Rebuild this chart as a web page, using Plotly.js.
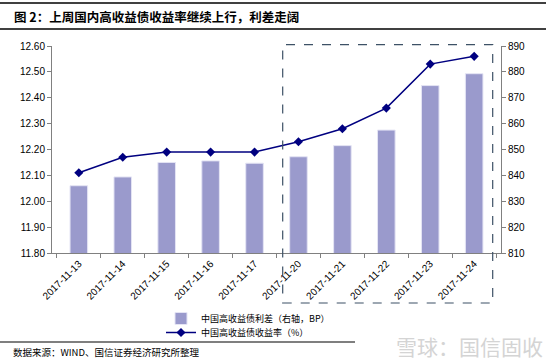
<!DOCTYPE html>
<html>
<head>
<meta charset="utf-8">
<script src="https://cdn.plot.ly/plotly-3.0.1.min.js"></script>
<style>
html,body{margin:0;padding:0;background:#fff;}
#chart{width:546px;height:361px;}
</style>
</head>
<body>
<div id="chart"></div>
<script>
const dates = ["2017-11-13","2017-11-14","2017-11-15","2017-11-16","2017-11-17","2017-11-20","2017-11-21","2017-11-22","2017-11-23","2017-11-24"];
const spreadBP = [836.0, 839.4, 845.0, 845.6, 844.7, 847.2, 851.5, 857.5, 874.7, 879.3];
const yieldPct = [12.11, 12.17, 12.19, 12.19, 12.19, 12.23, 12.28, 12.36, 12.53, 12.56];
const seriesNames = ["中国高收益债利差（右轴，BP）", "中国高收益债收益率（%）"];
const titleText = "图 2：上周国内高收益债收益率继续上行，利差走阔";
const sourceText = "数据来源：WIND、国信证券经济研究所整理";
const watermark = "雪球：国信固收";

const numFont = "Liberation Sans, Arial, sans-serif";
const cjkFont = "Noto Sans CJK SC, sans-serif";

const traces = [
  {
    type: "bar", x: dates, y: spreadBP, yaxis: "y2", name: seriesNames[0], legend: "legend",
    marker: {color: "#9a9acc", line: {color: "#e4e4f4", width: 1}}
  },
  {
    type: "scatter", mode: "lines+markers", x: dates, y: yieldPct, yaxis: "y", name: seriesNames[1], legend: "legend2",
    line: {color: "#000080", width: 1.5},
    marker: {symbol: "diamond", size: 7, color: "#000080"}
  }
];

const py = v => (253 - v) / 207;
const px = v => (v - 52) / 449;

const legendBase = {
  xanchor: "left", yanchor: "middle",
  font: {family: cjkFont, size: 9, color: "#000"},
  itemwidth: 30, bgcolor: "rgba(0,0,0,0)", borderwidth: 0
};

const layout = {
  width: 546, height: 361,
  margin: {l: 52, r: 45, t: 46, b: 108},
  paper_bgcolor: "#fff", plot_bgcolor: "#fff",
  bargap: 0.6,
  showlegend: true,
  legend: Object.assign({}, legendBase, {x: px(161), y: py(318.5)}),
  legend2: Object.assign({}, legendBase, {x: px(161), y: py(332.5)}),
  xaxis: {
    type: "category", tickson: "boundaries", ticks: "outside", ticklen: 4,
    tickcolor: "#808080", showline: true, linecolor: "#808080", linewidth: 1,
    showgrid: false, tickangle: -45,
    tickfont: {family: numFont, size: 10, color: "#000"}
  },
  yaxis: {
    range: [11.8, 12.6], dtick: 0.1, tickformat: ".2f",
    ticks: "outside", ticklen: 4, tickcolor: "#808080",
    showline: true, linecolor: "#808080", linewidth: 1,
    showgrid: false, zeroline: false,
    tickfont: {family: numFont, size: 10, color: "#000"}
  },
  yaxis2: {
    range: [810, 890], dtick: 10, overlaying: "y", side: "right",
    ticks: "outside", ticklen: 4, tickcolor: "#808080",
    showline: true, linecolor: "#808080", linewidth: 1,
    showgrid: false, zeroline: false,
    tickfont: {family: numFont, size: 10, color: "#000"}
  },
  shapes: [
    {type: "rect", xref: "paper", yref: "paper", x0: px(282.7), x1: px(492.7), y0: py(303), y1: py(44.7),
     line: {color: "#3d5166", width: 1.2, dash: "dash"}},
    {type: "line", xref: "paper", yref: "paper", x0: px(0), x1: px(546), y0: py(3), y1: py(3),
     line: {color: "#000", width: 1.5}},
    {type: "line", xref: "paper", yref: "paper", x0: px(0), x1: px(546), y0: py(29), y1: py(29),
     line: {color: "#000", width: 1.5}},
    {type: "line", xref: "paper", yref: "paper", x0: px(0), x1: px(355), y0: py(342), y1: py(342),
     line: {color: "#000", width: 1.2}}
  ],
  annotations: [
    {text: "<b>" + titleText + "</b>", xref: "paper", yref: "paper", x: px(12), y: py(16),
     xanchor: "left", yanchor: "middle", showarrow: false,
     font: {family: cjkFont, size: 12.5, color: "#000"}},
    {text: sourceText, xref: "paper", yref: "paper", x: px(11), y: py(352),
     xanchor: "left", yanchor: "middle", showarrow: false,
     font: {family: cjkFont, size: 9.5, color: "#000"}},
    {text: watermark, xref: "paper", yref: "paper", x: px(545), y: py(346),
     xanchor: "right", yanchor: "middle", showarrow: false,
     font: {family: cjkFont, size: 21, color: "#d4d4d4"}}
  ]
};

Plotly.newPlot("chart", traces, layout, {displayModeBar: false, staticPlot: true});
</script>
</body>
</html>
